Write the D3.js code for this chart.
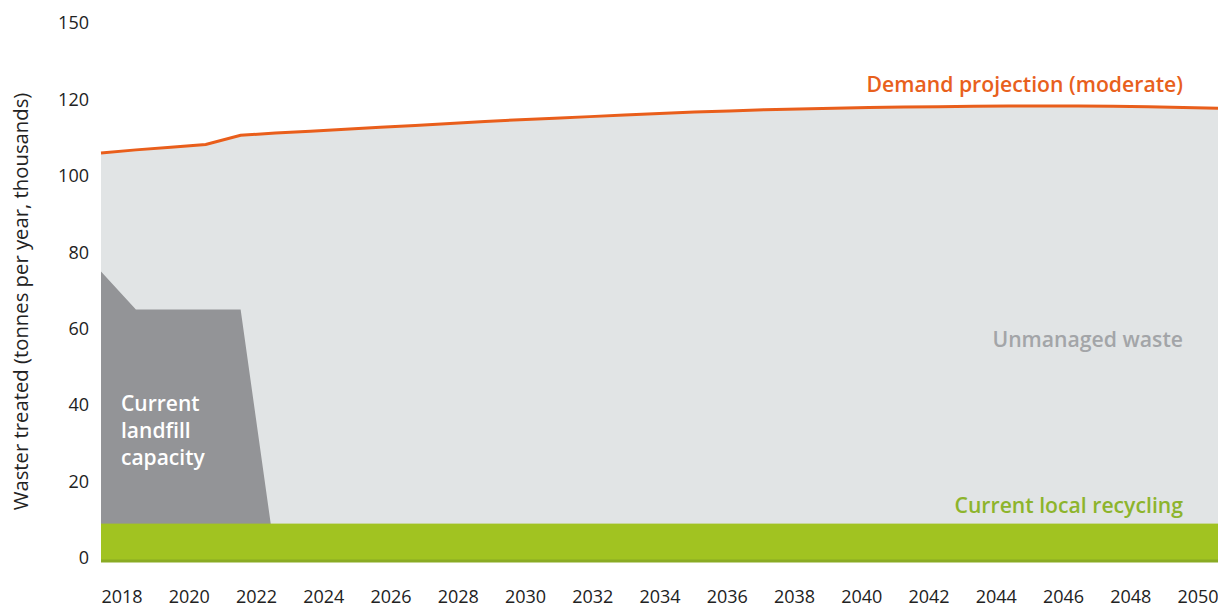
<!DOCTYPE html>
<html>
<head>
<meta charset="utf-8">
<script src="https://cdn.jsdelivr.net/npm/d3@7"></script>
<style>
  body { margin: 0; background: #fff; }
  svg { display: block; font-family: "Open Sans", sans-serif; }
</style>
</head>
<body>
<div id="chart"></div>
<script>
// Chart data
const years = d3.range(2018, 2051);
const demand = [106.0, 106.8, 107.5, 108.2, 110.6, 111.2, 111.7, 112.2, 112.7, 113.2,
  113.7, 114.2, 114.7, 115.1, 115.5, 115.9, 116.3, 116.7, 117.0, 117.3, 117.5,
  117.7, 117.9, 118.0, 118.1, 118.2, 118.3, 118.3, 118.3, 118.2, 118.1, 117.9, 117.7];
const landfillYears = [2018, 2019, 2020, 2021, 2022, 2023];
const landfill = [75, 65, 65, 65, 65, 0];
const recycling = 9;
const yTicks = [0, 20, 40, 60, 80, 100, 120, 140];
const yTickLabels = ["0", "20", "40", "60", "80", "100", "120", "150"];
const xTicks = d3.range(2018, 2051, 2);

const width = 1218;
const height = 606;
const margin = { top: 23, right: 0, bottom: 48, left: 101 };

const svg = d3.select("#chart")
  .append("svg")
  .attr("width", width)
  .attr("height", height);

// data scale spans the full plot width, label scale is inset like the original
const x = d3.scaleLinear()
  .domain([2018, 2050])
  .range([margin.left, width - margin.right]);

const xLabels = d3.scalePoint()
  .domain(years)
  .range([margin.left, width - margin.right])
  .padding(0.61);

const y = d3.scaleLinear()
  .domain([0, 140])
  .range([height - margin.bottom, margin.top]);

// Unmanaged waste (background up to demand)
svg.append("path")
  .datum(years)
  .attr("fill", "#e1e4e5")
  .attr("d", d3.area()
    .x((d) => x(d))
    .y0(y(0))
    .y1((d, i) => y(demand[i])));

// Landfill capacity
svg.append("path")
  .datum(landfillYears)
  .attr("fill", "#939497")
  .attr("d", d3.area()
    .x((d) => x(d))
    .y0(y(0))
    .y1((d, i) => y(landfill[i])));

// Local recycling band
svg.append("rect")
  .attr("x", x(2018))
  .attr("width", x(2050) - x(2018))
  .attr("y", y(recycling))
  .attr("height", y(0) - y(recycling) + 2)
  .attr("fill", "#a1c321");

svg.append("line")
  .attr("x1", x(2018))
  .attr("x2", x(2050))
  .attr("y1", y(0) + 3)
  .attr("y2", y(0) + 3)
  .attr("stroke", "#8aab24")
  .attr("stroke-width", 3);

// Demand projection line
svg.append("path")
  .datum(years)
  .attr("fill", "none")
  .attr("stroke", "#e95e1b")
  .attr("stroke-width", 3)
  .attr("d", d3.line()
    .x((d) => x(d))
    .y((d, i) => y(demand[i])));

// Axes
const xAxis = svg.append("g")
  .attr("transform", `translate(0,${height - margin.bottom})`)
  .call(d3.axisBottom(xLabels).tickValues(xTicks).tickSize(0).tickPadding(32));

const yAxis = svg.append("g")
  .attr("transform", `translate(${margin.left},0)`)
  .call(d3.axisLeft(y).tickValues(yTicks)
    .tickFormat((d, i) => yTickLabels[i]).tickSize(0).tickPadding(12));

[xAxis, yAxis].forEach((a) => {
  a.select(".domain").remove();
  a.selectAll("text")
    .attr("fill", "#222")
    .style("font-family", "'Open Sans', sans-serif")
    .style("font-size", "18px");
});

svg.append("text")
  .attr("transform", `translate(28,${(y(0) + y(140)) / 2 + 11}) rotate(-90)`)
  .attr("text-anchor", "middle")
  .attr("fill", "#222")
  .style("font-size", "20.3px")
  .text("Waster treated (tonnes per year, thousands)");

// Series labels
const labelSize = "21.2px";

svg.append("text")
  .attr("x", 1183)
  .attr("y", 92)
  .attr("text-anchor", "end")
  .attr("fill", "#e8601c")
  .style("font-size", labelSize)
  .style("font-weight", 600)
  .text("Demand projection (moderate)");

svg.append("text")
  .attr("x", 1183)
  .attr("y", 347)
  .attr("text-anchor", "end")
  .attr("fill", "#a3a5a8")
  .style("font-size", labelSize)
  .style("font-weight", 600)
  .text("Unmanaged waste");

svg.append("text")
  .attr("x", 1183)
  .attr("y", 513)
  .attr("text-anchor", "end")
  .attr("fill", "#8db42c")
  .style("font-size", labelSize)
  .style("font-weight", 600)
  .text("Current local recycling");

svg.append("text")
  .attr("x", 121)
  .attr("y", 411)
  .attr("fill", "#fff")
  .style("font-size", "21px")
  .style("font-weight", 600)
  .selectAll("tspan")
  .data(["Current", "landfill", "capacity"])
  .join("tspan")
  .attr("x", 121)
  .attr("dy", (d, i) => (i === 0 ? 0 : 27))
  .text((d) => d);
</script>
</body>
</html>
